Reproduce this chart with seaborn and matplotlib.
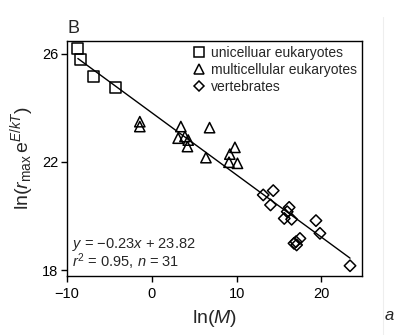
import numpy as np
import pandas as pd
import matplotlib
matplotlib.use("Agg")
import matplotlib.pyplot as plt
import seaborn as sns
from matplotlib.lines import Line2D

# ---- data ----
uni_x = [-8.73, -8.42, -6.88, -4.29]
uni_y = [26.19, 25.78, 25.15, 24.75]

multi_x = [-1.42, -1.42, 3.42, 3.10, 3.90, 4.29, 4.20, 6.81, 6.38, 9.80, 9.20, 9.10, 10.10]
multi_y = [23.49, 23.31, 23.31, 22.88, 22.94, 22.81, 22.57, 23.27, 22.16, 22.54, 22.29, 21.99, 21.95]

vert_x = [13.14, 14.32, 14.00, 16.20, 15.97, 15.62, 16.49, 19.36, 19.83, 17.47, 17.00, 16.77, 17.08, 23.38]
vert_y = [20.78, 20.94, 20.41, 20.32, 20.16, 19.91, 19.88, 19.83, 19.36, 19.17, 19.05, 18.99, 18.93, 18.16]

group_names = ["unicelluar eukaryotes", "multicellular eukaryotes", "vertebrates"]
slope, intercept = -0.23, 23.82
x_ticks = [-10, 0, 10, 20]
y_ticks = [18, 22, 26]

# ---- style ----
sns.set_style("ticks")
plt.rcParams["font.family"] = ["Liberation Sans", "DejaVu Sans"]
plt.rcParams["mathtext.fontset"] = "custom"
plt.rcParams["mathtext.rm"] = "Liberation Sans"
plt.rcParams["mathtext.it"] = "Liberation Sans:italic"

df = pd.DataFrame({
    "x": uni_x + multi_x + vert_x,
    "y": uni_y + multi_y + vert_y,
    "group": [group_names[0]] * len(uni_x) + [group_names[1]] * len(multi_x) + [group_names[2]] * len(vert_x),
})

fig = plt.figure(figsize=(3.97, 3.35), dpi=100)
ax = fig.add_axes([0.169, 0.176, 0.743, 0.702])

markers = {group_names[0]: "s", group_names[1]: "^", group_names[2]: "D"}
sizes = {group_names[0]: 60, group_names[1]: 55, group_names[2]: 34}
for g in group_names:
    sub = df[df["group"] == g]
    sns.scatterplot(x=sub["x"], y=sub["y"], ax=ax, marker=markers[g], s=sizes[g],
                    facecolors="none", edgecolors="black", linewidth=1.1, legend=False, zorder=3)

lx = np.array([df["x"].min(), df["x"].max()])
sns.lineplot(x=lx, y=slope * lx + intercept, ax=ax, color="black", linewidth=1.0, zorder=2)

ax.set_xlim(-10, 24.8)
ax.set_ylim(17.78, 26.48)
ax.set_xticks(x_ticks)
ax.set_xticklabels(["\u221210", "0", "10", "20"])
ax.set_yticks(y_ticks)
ax.tick_params(axis="both", direction="out", length=4, width=1, labelsize=10.5, colors="black")
ax.tick_params(axis="x", pad=4)
ax.tick_params(axis="y", pad=2.5)
for s in ax.spines.values():
    s.set_visible(True)
    s.set_linewidth(1.0)
    s.set_color("black")

ax.set_xlabel(r"ln($\mathit{M}$)", fontsize=14, labelpad=5)
ax.set_ylabel(r"ln($\mathit{r}_{\rm max}\,$e$^{\mathit{E/kT}}$)", fontsize=14, labelpad=4)

handles = [
    Line2D([], [], linestyle="none", marker="s", markersize=7, markerfacecolor="none", markeredgecolor="black", markeredgewidth=1.1),
    Line2D([], [], linestyle="none", marker="^", markersize=7, markerfacecolor="none", markeredgecolor="black", markeredgewidth=1.1),
    Line2D([], [], linestyle="none", marker="D", markersize=5.5, markerfacecolor="none", markeredgecolor="black", markeredgewidth=1.1),
]
ax.legend(handles, group_names, loc="upper right", frameon=False, fontsize=10,
          handlelength=0.8, handletextpad=0.5, labelspacing=0.22, borderpad=0.1,
          borderaxespad=0.25)

eq_text = ("$\\mathit{y}$ = \u22120.23$\\mathit{x}$ + 23.82\n"
           "$\\mathit{r}^2$ = 0.95, $\\mathit{n}$ = 31")
ax.text(0.015, 0.094, eq_text, transform=ax.transAxes,
        fontsize=10.5, ha="left", va="center", linespacing=0.95)

fig.text(0.169, 0.89, "B", fontsize=13, ha="left", va="bottom")
fig.text(0.968, 0.035, "a", fontsize=12, style="italic", ha="left", va="bottom")
fig.add_artist(Line2D([0.965, 0.965], [0.0, 0.95], transform=fig.transFigure, color="#eeeeee", linewidth=0.8))

fig.savefig("out.png", dpi=100)
